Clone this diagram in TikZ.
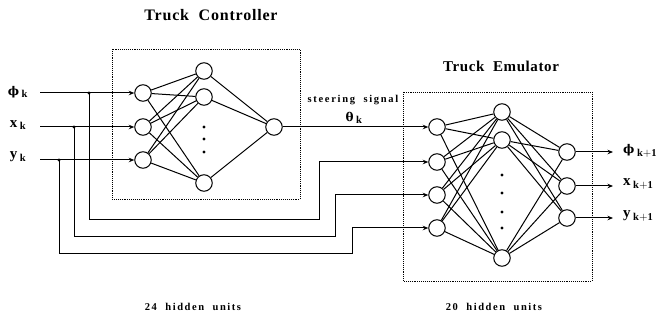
\documentclass[tikz,border=0pt]{standalone}
\usepackage{fontspec}
\setmainfont{Liberation Serif}
\newfontfamily\grk{DejaVu Serif}
\usetikzlibrary{arrows.meta}

\newcommand{\sbk}[1]{\,$_{\mathbf{#1}}$}
\newcommand{\gphi}{{\grk\bfseries\fontsize{12}{14}\selectfont ϕ}}
\newcommand{\gtheta}{{\grk\bfseries\fontsize{12}{14}\selectfont θ}}

\tikzset{
  neuron/.style={circle, draw, line width=1pt, minimum size=16.5pt, inner sep=0pt},
  wire/.style={line width=1pt},
  arr/.style={wire, -{Stealth[length=5.5pt,width=4.5pt]}},
  joint/.style={circle, fill, inner sep=0pt, minimum size=3.2pt},
  hdot/.style={circle, fill, inner sep=0pt, minimum size=3.2pt},
  framebox/.style={densely dotted, line width=0.9pt},
  titletext/.style={font=\fontsize{16}{18}\selectfont\bfseries\addfontfeatures{LetterSpace=5}},
  notetext/.style={font=\fontsize{10.5}{12}\selectfont\bfseries\addfontfeatures{LetterSpace=15}},
  steertext/.style={font=\fontsize{10.5}{12}\selectfont\bfseries\addfontfeatures{LetterSpace=16}},
  vartext/.style={font=\fontsize{15}{17}\selectfont\bfseries, inner sep=0pt}
}

\begin{document}
\begin{tikzpicture}[x=1pt, y=-1pt]
\useasboundingbox (0,0) rectangle (657,320);

% ---------------- titles and notes ----------------
\node[titletext] (tc) at (211,15) {Truck\ \ Controller};
\node[titletext, font=\fontsize{15}{17}\selectfont\bfseries\addfontfeatures{LetterSpace=4}] (te) at (501,66) {Truck\ \ Emulator};
\node[notetext] (hc) at (193,307) {24\ \ hidden\ \ units};
\node[notetext] (he) at (494,307) {20\ \ hidden\ \ units};
\node[steertext] (ss) at (353,100) {steering\ \ signal};
\node[vartext] (th) at (354,118) {\gtheta\sbk{k}};

% ---------------- frames ----------------
\draw[framebox] (112,49) rectangle (300,199);
\draw[framebox] (403,92) rectangle (592,281);

% ---------------- controller network ----------------
\node[neuron] (ci1) at (143,93) {};
\node[neuron] (ci2) at (143,127) {};
\node[neuron] (ci3) at (143,160) {};
\node[neuron] (ch1) at (204,71) {};
\node[neuron] (ch2) at (204,97) {};
\node[neuron] (ch3) at (204,183) {};
\node[neuron] (co)  at (274,127) {};
\foreach \y in {127,139,152} \node[hdot] at (204,\y) {};
\foreach \i in {ci1,ci2,ci3}
  \foreach \h in {ch1,ch2,ch3}
    \draw[wire] (\i) -- (\h);
\foreach \h in {ch1,ch2,ch3}
  \draw[wire] (\h) -- (co);

% ---------------- emulator network ----------------
\node[neuron] (ei1) at (437,127) {};
\node[neuron] (ei2) at (437,162) {};
\node[neuron] (ei3) at (437,195) {};
\node[neuron] (ei4) at (437,228) {};
\node[neuron] (eh1) at (502,112) {};
\node[neuron] (eh2) at (502,140) {};
\node[neuron] (eh3) at (502,258) {};
\node[neuron] (eo1) at (567,152) {};
\node[neuron] (eo2) at (567,186) {};
\node[neuron] (eo3) at (567,218) {};
\foreach \y in {175,193,212,228} \node[hdot] at (502,\y) {};
\foreach \i in {ei1,ei2,ei3,ei4}
  \foreach \h in {eh1,eh2,eh3}
    \draw[wire] (\i) -- (\h);
\foreach \h in {eh1,eh2,eh3}
  \foreach \o in {eo1,eo2,eo3}
    \draw[wire] (\h) -- (\o);

% ---------------- inputs ----------------
\node[vartext] (lphi) at (18,92) {\gphi\sbk{k}};
\node[vartext] (lx)   at (18,125) {x\sbk{k}};
\node[vartext] (ly)   at (18,157) {y\sbk{k}};
\coordinate (s1) at (40,93);
\coordinate (s2) at (40,127);
\coordinate (s3) at (40,160);
\node[joint] (j1) at (89,93) {};
\node[joint] (j2) at (74,127) {};
\node[joint] (j3) at (59,160) {};
\draw[arr] (s1) -- (ci1);
\draw[arr] (s2) -- (ci2);
\draw[arr] (s3) -- (ci3);

% steering signal into the emulator
\draw[arr] (co) -- (ei1);

% state fed forward to the emulator
\coordinate (f1) at (319,220);
\coordinate (f2) at (335,237);
\coordinate (f3) at (352,254);
\draw[arr] (j1.center) |- (f1) |- (ei2);
\draw[arr] (j2.center) |- (f2) |- (ei3);
\draw[arr] (j3.center) |- (f3) |- (ei4);

% ---------------- outputs ----------------
\coordinate (t1) at (613,152);
\coordinate (t2) at (613,186);
\coordinate (t3) at (613,218);
\draw[arr] (eo1) -- (t1);
\draw[arr] (eo2) -- (t2);
\draw[arr] (eo3) -- (t3);
\node[vartext, anchor=west] (lphi1) at (623,151) {\gphi\sbk{k+1}};
\node[vartext, anchor=west] (lx1)   at (623,184) {x\sbk{k+1}};
\node[vartext, anchor=west] (ly1)   at (623,216) {y\sbk{k+1}};
\end{tikzpicture}
\end{document}
